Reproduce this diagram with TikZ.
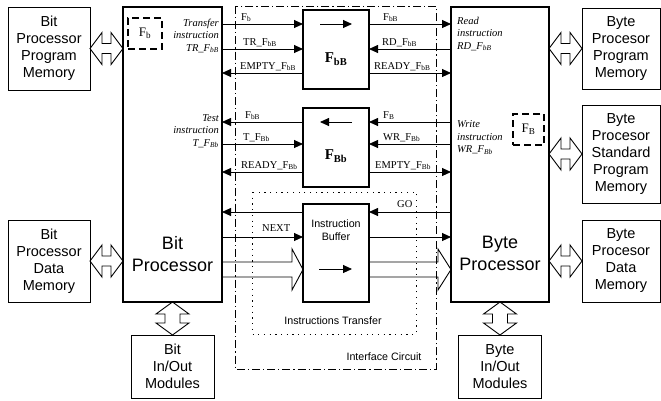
\documentclass[tikz,border=0pt]{standalone}
\usepackage{fontspec}
\setmainfont{Liberation Serif}
\setsansfont{Liberation Sans}
\usetikzlibrary{arrows.meta, positioning}

\tikzset{
  membox/.style={draw, line width=0.9pt, inner sep=0pt, outer sep=0pt, align=center, font=\sffamily\fontsize{14.5}{17}\selectfont},
  procbox/.style={draw, line width=2pt, inner sep=0pt, outer sep=0pt},
  flagbox/.style={draw, line width=2pt, inner sep=0pt, outer sep=0pt},
  localflag/.style={draw, line width=1.1pt, dash pattern=on 7pt off 4pt, inner sep=0pt, outer sep=0pt, font=\fontsize{13}{15}\selectfont},
  sig/.style={line width=0.9pt, -{Triangle[length=9pt,width=8pt]}},
  siglbl/.style={anchor=base west, inner sep=0pt, font=\fontsize{10.5}{12}\selectfont},
  instr/.style={inner sep=0pt, font=\itshape\fontsize{10.5}{12.5}\selectfont},
  bigtxt/.style={inner sep=0pt, align=center, font=\sffamily\fontsize{18}{22}\selectfont},
  flagtxt/.style={inner sep=0pt, font=\bfseries\fontsize{15}{18}\selectfont},
  note/.style={inner sep=0pt, align=center, font=\sffamily\fontsize{10.7}{13.5}\selectfont},
  bus/.style={line width=0.9pt, line join=miter},
  ifframe/.style={line width=0.9pt, dash pattern=on 8pt off 3pt on 1.2pt off 3pt},
  trframe/.style={line width=1pt, dash pattern=on 1.2pt off 4.5pt}
}

% hollow two-way buses (33pt long)
\newcommand{\hbus}[1]{\draw[bus] (#1) -- ++(12,-16) -- ++(0,11) -- ++(9,0) -- ++(0,-11) -- ++(12,16) -- ++(-12,16) -- ++(0,-11) -- ++(-9,0) -- ++(0,11) -- cycle;}
\newcommand{\vbus}[1]{\draw[bus] (#1) -- ++(16.5,12) -- ++(-9,0) -- ++(0,9) -- ++(9,0) -- ++(-16.5,12) -- ++(-16.5,-12) -- ++(9,0) -- ++(0,-9) -- ++(-9,0) -- cycle;}

\begin{document}
\begin{tikzpicture}[x=1pt, y=-1pt]
  \useasboundingbox (0,0) rectangle (661,400);
  % interface frames
  \draw[ifframe] (235,6) rectangle (436,369);
  \draw[trframe] (252,192) rectangle (416,334);
  \node[note] (iflbl) at (384,357) {Interface Circuit};
  \node[note] (trlbl) at (333,321) {Instructions Transfer};

  % memories and processors
  \node[membox, minimum width=82pt, minimum height=83pt] (bitprog) at (49,48.5) {Bit\\Processor\\Program\\Memory};
  \node[membox, minimum width=82pt, minimum height=82pt] (bitdata) at (49,261) {Bit\\Processor\\Data\\Memory};
  \node[membox, minimum width=83pt, minimum height=63pt] (bitio) at (172.5,366.5) {Bit\\In/Out\\Modules};
  \node[membox, minimum width=78pt, minimum height=81pt] (byteprog) at (621,48.5) {Byte\\Procesor\\Program\\Memory};
  \node[membox, minimum width=78pt, minimum height=98pt] (bytestd) at (621,154) {Byte\\Procesor\\Standard\\Program\\Memory};
  \node[membox, minimum width=78pt, minimum height=82pt] (bytedata) at (621,261) {Byte\\Procesor\\Data\\Memory};
  \node[membox, minimum width=83pt, minimum height=63pt] (byteio) at (500,366.5) {Byte\\In/Out\\Modules};
  \node[procbox, minimum width=99pt, minimum height=295pt] (bitp) at (172.5,154.5) {};
  \node[procbox, minimum width=98pt, minimum height=295pt] (bytep) at (500,154.5) {};
  \node[bigtxt] (bitlbl) at (172.5,254) {Bit\\Processor};
  \node[bigtxt] (bytelbl) at (500,253) {Byte\\Processor};
  \node[localflag, minimum width=34pt, minimum height=31pt] (fb) at (145,33.5) {F\textsubscript{b}};
  \node[localflag, minimum width=31pt, minimum height=31pt] (fB) at (528.5,129.5) {F\textsubscript{B}};

  % buses
  \hbus{bitprog.east}
  \hbus{bitdata.east}
  \hbus{bytep.east |- byteprog.west}
  \hbus{bytep.east |- bytestd.west}
  \hbus{bytep.east |- bytedata.west}
  \vbus{bitp.south}
  \vbus{bytep.south}

  % flag registers and buffer
  \node[flagbox, minimum width=66pt, minimum height=79pt] (fbB) at (336,49.5) {};
  \node[flagbox, minimum width=66pt, minimum height=79pt] (fBb) at (336,147.5) {};
  \node[flagbox, minimum width=66pt, minimum height=98pt] (ibuf) at (336,253) {};
  \node[flagtxt] (fbBlbl) at (336,59) {F\textsubscript{bB}};
  \node[flagtxt] (fBblbl) at (336,156) {F\textsubscript{Bb}};
  \node[note] (ibuflbl) at (336,230) {Instruction\\Buffer};
  \draw[sig] (fbB.north) ++(-16,14) -- ++(32,0);
  \draw[sig] (fBb.north) ++(16,14) -- ++(-32,0);
  \draw[sig] (ibuf.south) ++(-17,-33) -- ++(33,0);

  % instructions
  \node[instr, align=right, anchor=east] (trinstr) at (219,36) {Transfer\\instruction\\TR\_F\textsubscript{bB}};
  \node[instr, align=right, anchor=east] (tinstr) at (219,131) {Test\\instruction\\T\_F\textsubscript{Bb}};
  \node[instr, align=left, anchor=west] (rdinstr) at (457,34) {Read\\instruction\\RD\_F\textsubscript{bB}};
  \node[instr, align=left, anchor=west] (wrinstr) at (457,137.5) {Write\\instruction\\WR\_F\textsubscript{Bb}};

  % signals of F_bB
  \draw[sig] (bitp.east |- 0,24) -- (fbB.west |- 0,24);
  \draw[sig] (fbB.east |- 0,24) -- (bytep.west |- 0,24);
  \draw[sig] (bitp.east |- 0,49) -- (fbB.west |- 0,49);
  \draw[sig] (bytep.west |- 0,49) -- (fbB.east |- 0,49);
  \draw[sig] (fbB.west |- 0,73) -- (bitp.east |- 0,73);
  \draw[sig] (fbB.east |- 0,73) -- (bytep.west |- 0,73);
  \node[siglbl] at (241,20) {F\textsubscript{b}};
  \node[siglbl] at (383,20) {F\textsubscript{bB}};
  \node[siglbl] at (243,45) {TR\_F\textsubscript{bB}};
  \node[siglbl] at (382,45) {RD\_F\textsubscript{bB}};
  \node[siglbl] at (240,69) {EMPTY\_F\textsubscript{bB}};
  \node[siglbl] at (374,69) {READY\_F\textsubscript{bB}};

  % signals of F_Bb
  \draw[sig] (fBb.west |- 0,122) -- (bitp.east |- 0,122);
  \draw[sig] (bytep.west |- 0,122) -- (fBb.east |- 0,122);
  \draw[sig] (bitp.east |- 0,144) -- (fBb.west |- 0,144);
  \draw[sig] (bytep.west |- 0,144) -- (fBb.east |- 0,144);
  \draw[sig] (fBb.west |- 0,172) -- (bitp.east |- 0,172);
  \draw[sig] (fBb.east |- 0,172) -- (bytep.west |- 0,172);
  \node[siglbl] at (245,118) {F\textsubscript{bB}};
  \node[siglbl] at (383,118) {F\textsubscript{B}};
  \node[siglbl] at (243,140) {T\_F\textsubscript{Bb}};
  \node[siglbl] at (383,140) {WR\_F\textsubscript{Bb}};
  \node[siglbl] at (241,168) {READY\_F\textsubscript{Bb}};
  \node[siglbl] at (375,168) {EMPTY\_F\textsubscript{Bb}};

  % instruction transfer
  \draw[sig] (ibuf.west |- 0,212) -- (bitp.east |- 0,212);
  \draw[sig] (bytep.west |- 0,212) -- (ibuf.east |- 0,212);
  \draw[sig] (bitp.east |- 0,237) -- (ibuf.west |- 0,237);
  \draw[sig] (ibuf.east |- 0,237) -- (bytep.west |- 0,237);
  \node[siglbl] at (397,207) {GO};
  \node[siglbl] at (262,231) {NEXT};
  \draw[bus] (bitp.east |- 0,262) -- ++(70,0) -- ++(0,-13) -- (ibuf.west |- 0,269.5) -- ++(-11,20.5) -- ++(0,-13) -- (bitp.east |- 0,277);
  \draw[bus] (ibuf.east |- 0,262) -- ++(69,0) -- ++(0,-13) -- (bytep.west |- 0,269.5) -- ++(-13,20.5) -- ++(0,-13) -- (ibuf.east |- 0,277);
\end{tikzpicture}
\end{document}
